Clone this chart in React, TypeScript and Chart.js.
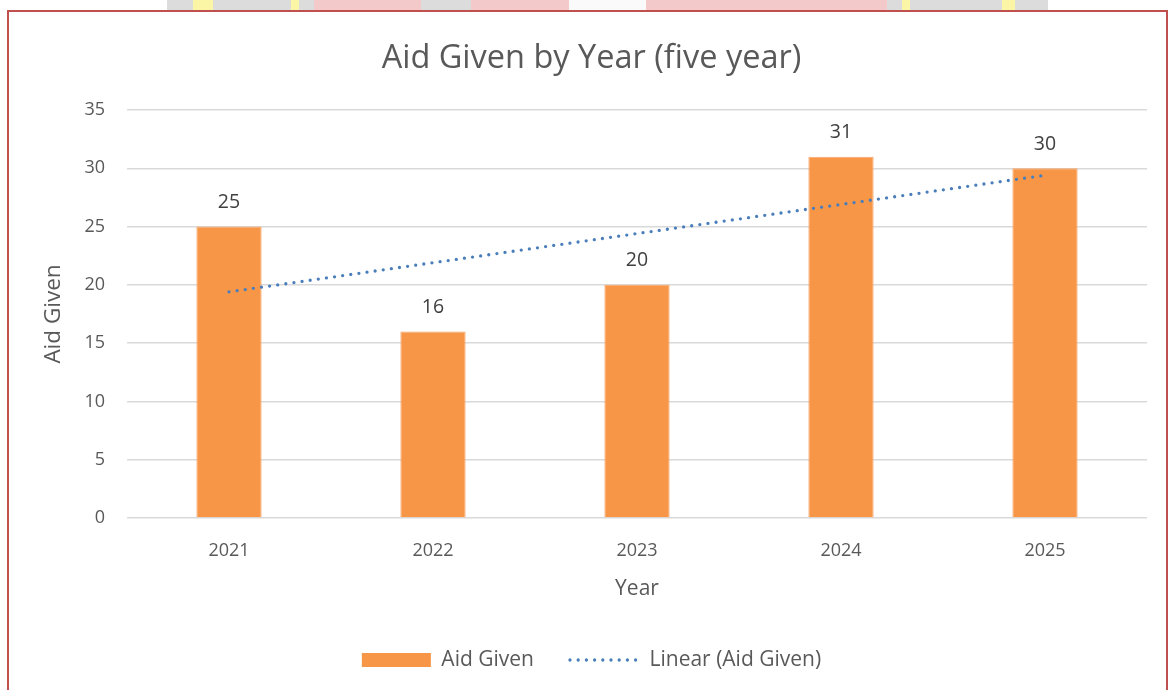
import React, { useEffect, useRef } from "react";
import { Chart, registerables } from "chart.js";

Chart.register(...registerables);

const years = ["2021", "2022", "2023", "2024", "2025"];
const aidGiven = [25, 16, 20, 31, 30];
const chartTitle = "Aid Given by Year (five year)";
const yTitle = "Aid Given";
const xTitle = "Year";
const barLabel = "Aid Given";
const trendLabel = "Linear (Aid Given)";

// least-squares linear trendline over the bar values (as Excel's "Linear" trendline)
function linearTrend(values: number[]): number[] {
  const n = values.length;
  const xs = values.map((_, i) => i + 1);
  const mx = xs.reduce((a, b) => a + b, 0) / n;
  const my = values.reduce((a, b) => a + b, 0) / n;
  let num = 0;
  let den = 0;
  for (let i = 0; i < n; i++) {
    num += (xs[i] - mx) * (values[i] - my);
    den += (xs[i] - mx) * (xs[i] - mx);
  }
  const slope = num / den;
  const intercept = my - slope * mx;
  return xs.map((x) => intercept + slope * x);
}

const FONT = "'Open Sans', 'DejaVu Sans', sans-serif";
const TEXT = "#595959";

const barLabelsPlugin = {
  id: "barLabels",
  afterDatasetsDraw(chart: any) {
    const meta = chart.getDatasetMeta(0);
    const ctx = chart.ctx;
    ctx.save();
    ctx.font = `19.5px ${FONT}`;
    ctx.fillStyle = "#404040";
    ctx.textAlign = "center";
    ctx.textBaseline = "middle";
    meta.data.forEach((el: any, i: number) => {
      ctx.fillText(String(chart.data.datasets[0].data[i]), el.x, el.y - 24);
    });
    ctx.restore();
  },
};

export default function App() {
  const ref = useRef<HTMLCanvasElement | null>(null);

  useEffect(() => {
    if (!ref.current) return;
    const chart = new Chart(ref.current, {
      type: "bar",
      data: {
        labels: years,
        datasets: [
          {
            type: "bar",
            label: barLabel,
            data: aidGiven,
            backgroundColor: "#F79646",
            borderColor: "#F9A66A",
            borderWidth: 1,
            barPercentage: 0.32,
            categoryPercentage: 1,
            order: 1,
          },
          {
            type: "line",
            label: trendLabel,
            data: linearTrend(aidGiven),
            borderColor: "#4A7EBB",
            backgroundColor: "#4A7EBB",
            borderWidth: 3.3,
            borderDash: [0, 8.2],
            borderCapStyle: "round",
            pointRadius: 0,
            pointStyle: "line",
            fill: false,
            order: 0,
          } as any,
        ],
      },
      options: {
        animation: false,
        responsive: false,
        maintainAspectRatio: false,
        layout: { padding: { left: 36, right: 22, top: 0, bottom: 9.5 } },
        plugins: {
          title: {
            display: true,
            text: chartTitle,
            color: TEXT,
            font: { family: FONT, size: 32.5, weight: "normal" },
            padding: { top: 39.5, bottom: 31.5 },
          },
          legend: {
            display: true,
            position: "bottom",
            labels: {
              color: TEXT,
              font: { family: FONT, size: 21 },
              usePointStyle: true,
              pointStyleWidth: 69,
              boxHeight: 14,
              padding: 36,
              sort: (a: any, b: any) => a.datasetIndex - b.datasetIndex,
              generateLabels: (chart: any) => {
                const items = Chart.defaults.plugins.legend.labels.generateLabels(chart);
                return items.map((it: any) => {
                  if (it.datasetIndex === 0) {
                    it.pointStyle = "rect";
                    it.lineWidth = 0;
                    it.strokeStyle = "rgba(0,0,0,0)";
                  } else {
                    it.pointStyle = "line";
                    it.lineWidth = 3.3;
                    it.lineDash = [0, 8.2];
                    it.lineCap = "round";
                  }
                  return it;
                });
              },
            },
          },
          tooltip: { enabled: false },
        },
        scales: {
          x: {
            grid: { display: false, drawTicks: false },
            border: { display: false },
            ticks: {
              color: TEXT,
              font: { family: FONT, size: 18 },
              padding: 22,
            },
            title: {
              display: true,
              text: xTitle,
              color: TEXT,
              font: { family: FONT, size: 21 },
              padding: { top: 0, bottom: 12 },
            },
            afterFit: (scale: any) => {
              scale.height = 95.5;
            },
          },
          y: {
            min: 0,
            max: 35,
            ticks: {
              stepSize: 5,
              color: TEXT,
              font: { family: FONT, size: 18 },
              padding: 22,
            },
            grid: { color: "#d9d9d9", lineWidth: 1.5, drawTicks: false },
            border: { display: false },
            title: {
              display: true,
              text: yTitle,
              color: TEXT,
              font: { family: FONT, size: 22.5 },
              padding: { top: 4.5, bottom: 0 },
            },
            afterFit: (scale: any) => {
              scale.width = 91;
            },
          },
        },
      },
      plugins: [barLabelsPlugin],
    });
    return () => chart.destroy();
  }, []);

  const strip =
    "linear-gradient(to right, #fff 0px, #fff 167px, #dcdcdc 167px, #dcdcdc 193px, #fbf6a6 193px, #fbf6a6 213px, #dcdcdc 213px, #dcdcdc 291px, #fbf6a6 291px, #fbf6a6 299px, #dcdcdc 299px, #dcdcdc 314px, #f4c9c9 314px, #f4c9c9 421px, #dcdcdc 421px, #dcdcdc 471px, #f4c9c9 471px, #f4c9c9 569px, #fafafa 569px, #fafafa 646px, #f4c9c9 646px, #f4c9c9 887px, #dcdcdc 887px, #dcdcdc 902px, #fbf6a6 902px, #fbf6a6 910px, #dcdcdc 910px, #dcdcdc 1002px, #fbf6a6 1002px, #fbf6a6 1015px, #dcdcdc 1015px, #dcdcdc 1048px, #fff 1048px, #fff 1169px)";

  return (
    <div
      style={{
        position: "fixed",
        left: 0,
        top: 0,
        width: 1169,
        height: 690,
        background: "#fff",
        overflow: "hidden",
      }}
    >
      <div style={{ position: "absolute", left: 0, top: 0, width: 1169, height: 10, background: strip }} />
      <canvas ref={ref} width={1169} height={690} style={{ position: "absolute", left: 0, top: 0 }} />
      <div
        style={{
          position: "absolute",
          left: 7,
          top: 10,
          width: 1161,
          height: 700,
          borderTop: "2px solid #C0504D",
          borderLeft: "2px solid #C0504D",
          borderRight: "2px solid #C0504D",
          boxSizing: "border-box",
          pointerEvents: "none",
        }}
      />
    </div>
  );
}
